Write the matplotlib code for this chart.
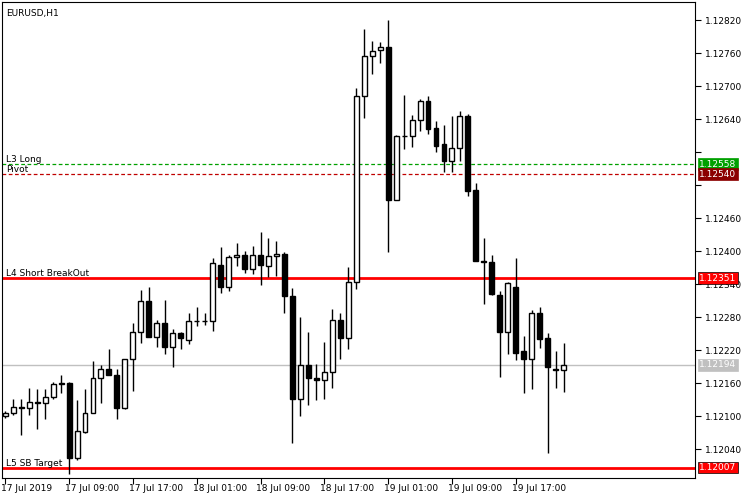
import matplotlib
matplotlib.use("Agg")
import matplotlib.pyplot as plt
import matplotlib.transforms as mtransforms

# EURUSD H1, prices in points above 1.12000 (1 point = 0.00001)
opens  = [100,107,118,116,127,124,136,160,160,24, 71,107,169,186,176,116,205,253,309,245,
          269,227,251,238,273,273,273,376,336,389, 393,367,393,374,391,395,318,131,193,169,
          167,180,276,242,345,682,754,765,771,493, 609,609,638,674,624,595,564,587,645,511,
          382,380,320,253,335,218,204,287,242,187, 185]
highs  = [109,131,131,151,149,149,162,175,162,129, 149,200,193,222,186,205,269,329,336,276,
          311,258,253,287,298,287,387,407,393,416, 400,409,435,424,418,398,333,280,253,195,
          236,296,287,371,696,804,782,780,820,611, 684,647,676,682,636,629,645,655,649,524,
          424,393,327,345,387,247,293,298,251,218, 234]
lows   = [98, 102,67, 102,78, 96, 131,142,-4, 20, 69, 107,124,175,95, 113,147,234,244,227,
          214,189,222,231,264,266,255,325,327,373, 360,358,338,353,356,287,51, 100,120,129,
          131,151,205,222,331,642,722,742,398,493, 585,589,618,613,580,545,544,564,500,398,
          304,320,171,213,202,142,149,224,33, 151, 144]
closes = [107,118,116,127,124,135,158,158,24, 73, 107,169,186,175,116,205,253,309,245,269,
          227,251,242,273,273,273,378,335,389,393, 367,393,376,391,395,318,131,193,169,167,
          180,276,242,345,682,754,764,771,493,609, 609,638,674,622,591,564,587,645,509,382,
          380,322,253,342,216,204,287,240,189,185, 193]

date_ticks = [0, 8, 16, 24, 32, 40, 48, 56, 64]
date_labels = ["17 Jul 2019", "17 Jul 09:00", "17 Jul 17:00", "18 Jul 01:00", "18 Jul 09:00",
               "18 Jul 17:00", "19 Jul 01:00", "19 Jul 09:00", "19 Jul 17:00"]
price_ticks = [1.12040, 1.12100, 1.12160, 1.12220, 1.12280, 1.12340, 1.12400, 1.12460,
               1.12520, 1.12580, 1.12640, 1.12700, 1.12760, 1.12820]
hidden_ticks = [1.12520, 1.12580]  # covered by level labels on the price scale

level_names = ["L3 Long", "Pivot", "L4 Short BreakOut", "L5 SB Target"]
level_prices = [1.12558, 1.12540, 1.12351, 1.12007]
bid_price = 1.12194

base = 1.12
o = [base + v * 1e-5 for v in opens]
h = [base + v * 1e-5 for v in highs]
l = [base + v * 1e-5 for v in lows]
c = [base + v * 1e-5 for v in closes]

fig = plt.figure(figsize=(7.5, 5), dpi=100)
ax = fig.add_axes([0.003, 0.045, 0.924, 0.951])
fs = 6.5

# levels
ax.axhline(level_prices[0], color="#00a000", lw=0.9, ls=(0, (3, 2)))
ax.axhline(level_prices[1], color="#c00000", lw=0.9, ls=(0, (3, 2)))
ax.axhline(level_prices[2], color="red", lw=2)
ax.axhline(level_prices[3], color="red", lw=2)
ax.axhline(bid_price, color="#c0c0c0", lw=1)

x = list(range(len(o)))
ax.vlines(x, l, h, color="black", lw=1, zorder=3)
for i in x:
    black = c[i] < o[i]
    lo, hi = min(o[i], c[i]), max(o[i], c[i])
    ax.bar(i, hi - lo, bottom=lo, width=0.62, color="black" if black else "white",
           edgecolor="black", lw=1, zorder=4)

ax.set_xlim(-0.375, 86.5)
ax.set_ylim(1.11989, 1.12853)

ax.yaxis.tick_right()
ax.set_yticks(price_ticks)
ax.set_yticklabels(["" if p in hidden_ticks else f"{p:.5f}" for p in price_ticks], fontsize=fs)
ax.tick_params(axis="y", direction="out", length=4, pad=3)
ax.set_xticks(date_ticks)
ax.set_xticklabels(date_labels, fontsize=fs, ha="left")
ax.tick_params(axis="x", direction="out", length=4, pad=1)
for lab in ax.get_xticklabels():
    lab.set_transform(lab.get_transform() + mtransforms.ScaledTranslation(-3/72, 0, fig.dpi_scale_trans))
for sp in ax.spines.values():
    sp.set_linewidth(0.8)

ax.text(0.005, 0.985, "EURUSD,H1", transform=ax.transAxes, fontsize=fs, va="top", ha="left")
for name, p in zip(level_names, level_prices):
    ax.text(0.005, p, name, transform=ax.get_yaxis_transform(), fontsize=fs,
            va="bottom", ha="left")

box_colors = ["#00a000", "#8b0000", "red", "#c0c0c0", "red"]
box_prices = [level_prices[0], level_prices[1], level_prices[2], bid_price, level_prices[3]]
for p, bc in zip(box_prices, box_colors):
    ax.text(1.006, p, f"{p:.5f}", transform=ax.get_yaxis_transform(), fontsize=fs,
            va="center", ha="left", color="white", clip_on=False, zorder=10,
            bbox=dict(boxstyle="square,pad=0.15", fc=bc, ec="black" if bc == "red" else bc, lw=0.5))

fig.savefig("out.png", dpi=100)
